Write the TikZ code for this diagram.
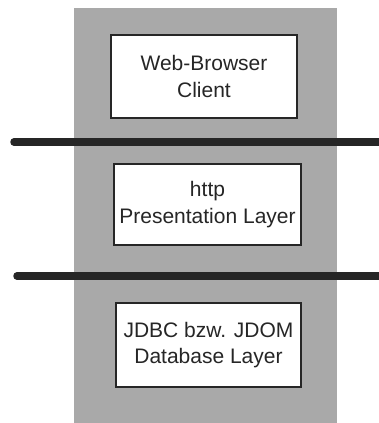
\documentclass[tikz,border=0pt]{standalone}
\usepackage{fontspec}
\setmainfont{Liberation Sans}
\definecolor{panelgray}{HTML}{A9A9A9}
\definecolor{inkgray}{HTML}{262626}
\begin{document}
\begin{tikzpicture}[x=1pt,y=-1pt,
  layerbox/.style={draw=inkgray,line width=1.6pt,fill=white,inner sep=0pt,
    text=inkgray,align=center,font=\fontsize{21}{26.5}\selectfont},
  divider/.style={line width=7.5pt,draw=inkgray,line cap=round}]
\useasboundingbox (0,0) rectangle (378,423);
\fill[panelgray] (74,8) rectangle (337,423);
\node[layerbox,minimum width=186pt,minimum height=83pt] (client) at (204,76.5) {Web-Browser\\Client};
\node[layerbox,minimum width=187pt,minimum height=81pt] (pres) at (207.5,204.5) {http\\Presentation Layer};
\node[layerbox,minimum width=185pt,minimum height=84pt] (db) at (208.5,345) {JDBC bzw. JDOM\\Database Layer};
\coordinate (d1a) at (14,142);
\coordinate (d1b) at (382,142);
\coordinate (d2a) at (17,276);
\coordinate (d2b) at (382,276);
\draw[divider] (d1a) -- (d1b);
\draw[divider] (d2a) -- (d2b);
\end{tikzpicture}
\end{document}
